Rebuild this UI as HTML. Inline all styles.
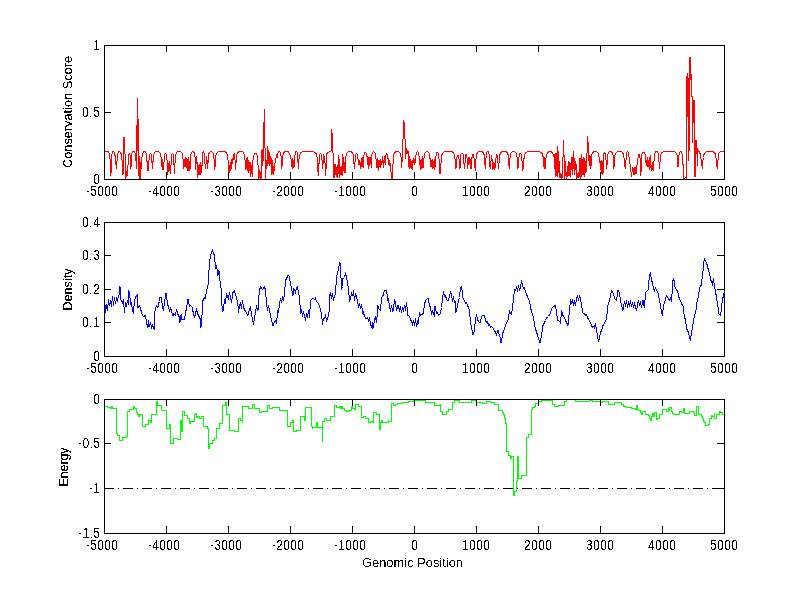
<!DOCTYPE html>
<html><head><meta charset="utf-8"><title>Plot</title><style>html,body{margin:0;padding:0;background:#fff;overflow:hidden}svg{display:block}</style></head><body><svg width="800" height="599" viewBox="0 0 800 599"><rect width="800" height="599" fill="#fff"/><g shape-rendering="crispEdges"><polyline fill="none" stroke="#f00" stroke-width="1" points="104.50,151.50 104.75,151.50 104.99,151.50 105.24,151.50 105.48,151.50 105.73,151.50 105.97,151.50 106.22,151.50 106.46,151.50 106.71,151.50 106.95,151.50 107.20,151.50 107.45,151.52 107.69,151.58 107.94,151.69 108.18,151.84 108.43,152.05 108.67,152.31 108.92,152.64 109.16,153.07 109.41,153.63 109.65,154.42 109.90,156.50 110.90,176.10 111.70,156.50 111.94,153.92 112.19,153.00 112.43,152.40 112.67,151.98 112.91,151.71 113.16,151.55 113.40,151.50 113.64,151.55 113.89,151.71 114.13,151.98 114.37,152.40 114.61,153.00 114.86,153.92 115.10,156.50 116.50,169.10 117.30,156.92 117.55,154.47 117.79,153.52 118.04,152.86 118.29,152.38 118.54,152.01 118.78,151.76 119.03,151.59 119.28,151.51 119.52,151.51 119.77,151.59 120.02,151.76 120.26,152.01 120.51,152.38 120.76,152.86 121.01,153.52 121.25,154.47 121.50,156.92 122.20,160.50 123.00,174.50 123.80,137.90 124.70,137.90 125.50,179.50 126.30,171.50 127.00,176.50 127.70,172.50 128.30,158.50 128.55,155.19 128.80,154.17 129.05,153.66 129.30,153.50 129.55,153.66 129.80,154.17 130.05,155.19 130.30,158.50 130.90,169.10 131.50,156.50 131.75,154.08 132.00,153.19 132.25,152.60 132.50,152.17 132.75,151.86 133.00,151.66 133.25,151.54 133.50,151.50 133.75,151.54 134.00,151.66 134.25,151.86 134.50,152.17 134.75,152.60 135.00,153.19 135.25,154.08 135.50,156.50 135.90,158.50 136.40,169.10 136.80,125.10 137.10,150.50 137.70,98.20 138.10,124.50 138.50,158.50 139.10,179.10 139.80,156.50 140.70,179.10 141.40,157.50 142.20,156.95 142.45,154.56 142.70,153.63 142.95,152.97 143.20,152.48 143.45,152.11 143.70,151.84 143.95,151.65 144.20,151.54 144.45,151.50 144.70,151.54 144.95,151.65 145.20,151.84 145.45,152.11 145.70,152.48 145.95,152.97 146.20,153.63 146.45,154.56 146.70,156.95 146.90,159.09 147.40,170.76 147.90,160.69 148.40,171.15 148.90,160.13 149.40,158.50 149.66,155.36 149.91,154.34 150.17,153.79 150.42,153.53 150.68,153.53 150.93,153.79 151.19,154.34 151.44,155.36 151.70,158.50 152.50,169.10 153.30,157.28 153.55,155.18 153.80,154.32 154.05,153.69 154.31,153.19 154.56,152.79 154.81,152.45 155.06,152.18 155.31,151.96 155.56,151.79 155.82,151.66 156.07,151.58 156.32,151.54 156.57,151.52 156.82,151.51 157.07,151.50 157.33,151.50 157.58,151.51 157.83,151.52 158.08,151.54 158.33,151.58 158.58,151.66 158.84,151.79 159.09,151.96 159.34,152.18 159.59,152.45 159.84,152.79 160.09,153.19 160.35,153.69 160.60,154.32 160.85,155.18 161.10,157.28 161.50,158.29 162.18,170.22 162.85,158.99 163.52,170.32 164.20,158.62 164.50,158.50 164.76,155.36 165.01,154.34 165.27,153.79 165.52,153.53 165.78,153.53 166.03,153.79 166.29,154.34 166.54,155.36 166.80,158.50 167.20,160.86 167.85,174.73 168.50,162.68 169.15,170.95 169.80,161.14 170.45,174.05 171.10,163.73 171.30,158.50 171.54,155.50 171.78,154.50 172.02,153.92 172.26,153.60 172.50,153.50 172.74,153.60 172.98,153.92 173.22,154.50 173.46,155.50 173.70,158.50 174.50,173.90 175.30,157.26 175.55,155.15 175.81,154.29 176.06,153.66 176.31,153.16 176.57,152.76 176.82,152.42 177.07,152.15 177.33,151.94 177.58,151.77 177.83,151.65 178.09,151.57 178.34,151.53 178.59,151.51 178.85,151.50 179.10,151.50 179.35,151.50 179.61,151.51 179.86,151.53 180.11,151.57 180.37,151.65 180.62,151.77 180.87,151.94 181.13,152.15 181.38,152.42 181.63,152.76 181.89,153.16 182.14,153.66 182.39,154.29 182.65,155.15 182.90,157.26 183.30,161.71 183.90,169.03 184.50,158.68 185.10,166.84 185.70,156.76 186.30,167.48 186.90,158.09 187.50,171.41 188.10,157.15 188.70,170.50 189.30,160.98 189.90,171.21 190.50,159.70 190.60,156.94 190.84,154.56 191.09,153.62 191.33,152.97 191.58,152.48 191.82,152.11 192.07,151.83 192.31,151.65 192.56,151.54 192.80,151.50 193.04,151.54 193.29,151.65 193.53,151.83 193.78,152.11 194.02,152.48 194.27,152.97 194.51,153.62 194.76,154.56 195.00,156.94 195.50,170.00 196.70,156.50 197.90,177.80 198.40,164.63 198.90,173.68 199.40,164.18 199.90,175.19 200.40,161.79 200.90,174.49 201.40,164.83 201.90,173.40 202.20,156.50 202.44,153.36 202.69,152.34 202.93,151.79 203.18,151.53 203.42,151.53 203.67,151.79 203.91,152.34 204.16,153.36 204.40,156.50 205.50,169.30 206.70,156.50 207.70,169.30 208.30,157.06 208.55,154.88 208.81,154.00 209.06,153.36 209.32,152.87 209.57,152.48 209.83,152.16 210.08,151.92 210.34,151.73 210.59,151.60 210.85,151.53 211.10,151.50 211.35,151.53 211.61,151.60 211.86,151.73 212.12,151.92 212.37,152.16 212.63,152.48 212.88,152.87 213.14,153.36 213.39,154.00 213.65,154.88 213.90,157.06 214.80,169.50 215.70,157.50 215.95,155.43 216.20,154.58 216.45,153.97 216.70,153.48 216.94,153.08 217.19,152.75 217.44,152.47 217.69,152.24 217.94,152.06 218.19,151.92 218.44,151.82 218.69,151.76 218.94,151.72 219.19,151.68 219.43,151.65 219.68,151.62 219.93,151.59 220.18,151.57 220.43,151.55 220.68,151.53 220.93,151.52 221.18,151.51 221.43,151.50 221.68,151.50 221.92,151.50 222.17,151.50 222.42,151.51 222.67,151.52 222.92,151.53 223.17,151.55 223.42,151.57 223.67,151.59 223.92,151.62 224.17,151.65 224.41,151.68 224.66,151.72 224.91,151.76 225.16,151.82 225.41,151.92 225.66,152.06 225.91,152.24 226.16,152.47 226.41,152.75 226.66,153.08 226.90,153.48 227.15,153.97 227.40,154.58 227.65,155.43 227.90,157.50 228.70,177.50 229.30,165.50 229.90,172.50 230.70,162.50 231.30,168.50 232.10,158.50 232.70,163.50 233.30,156.50 233.70,158.50 233.94,154.50 234.18,153.60 234.42,153.60 234.66,154.50 234.90,158.50 235.60,169.50 236.40,157.33 236.65,155.23 236.90,154.37 237.15,153.74 237.41,153.24 237.66,152.83 237.91,152.50 238.16,152.22 238.41,152.00 238.66,151.82 238.92,151.69 239.17,151.61 239.42,151.56 239.67,151.54 239.92,151.52 240.17,151.51 240.42,151.50 240.68,151.50 240.93,151.51 241.18,151.52 241.43,151.54 241.68,151.56 241.93,151.61 242.18,151.69 242.44,151.82 242.69,152.00 242.94,152.22 243.19,152.50 243.44,152.83 243.69,153.24 243.95,153.74 244.20,154.37 244.45,155.23 244.70,157.33 246.00,169.50 246.50,158.50 247.10,170.50 247.70,157.50 248.30,172.50 248.90,160.50 249.50,170.50 250.10,162.50 250.80,176.50 251.50,165.50 252.20,176.50 252.80,160.50 253.50,158.00 253.75,155.51 254.01,154.60 254.26,154.00 254.51,153.58 254.77,153.29 255.02,153.10 255.27,153.01 255.53,153.01 255.78,153.10 256.03,153.29 256.29,153.58 256.54,154.00 256.79,154.60 257.05,155.51 257.30,158.00 258.10,165.50 258.90,179.50 259.50,170.50 260.10,179.50 260.70,172.50 261.30,179.50 261.90,150.50 262.40,165.50 263.00,149.50 263.50,160.50 264.00,122.20 264.40,109.50 265.50,179.50 266.30,160.50 266.90,168.50 267.80,146.50 268.50,158.50 269.10,165.50 269.70,152.50 270.30,163.50 270.90,156.50 272.00,174.90 272.70,160.50 273.50,174.90 274.50,166.50 275.50,160.50 276.70,155.50 277.30,156.50 277.55,154.01 277.81,153.10 278.06,152.50 278.31,152.08 278.57,151.79 278.82,151.60 279.07,151.51 279.33,151.51 279.58,151.60 279.83,151.79 280.09,152.08 280.34,152.50 280.59,153.10 280.85,154.01 281.10,156.50 281.80,169.10 282.60,157.27 282.85,155.18 283.10,154.33 283.35,153.70 283.59,153.21 283.84,152.80 284.09,152.47 284.34,152.19 284.59,151.97 284.84,151.80 285.08,151.67 285.33,151.58 285.58,151.54 285.83,151.52 286.08,151.51 286.33,151.50 286.57,151.50 286.82,151.51 287.07,151.52 287.32,151.54 287.57,151.58 287.82,151.67 288.06,151.80 288.31,151.97 288.56,152.19 288.81,152.47 289.06,152.80 289.31,153.21 289.55,153.70 289.80,154.33 290.05,155.18 290.30,157.27 290.90,157.15 291.58,167.43 292.26,157.88 292.94,168.93 293.62,159.67 294.30,166.83 294.90,156.50 295.15,153.63 295.41,152.64 295.66,152.05 295.92,151.69 296.17,151.52 296.43,151.52 296.68,151.69 296.94,152.05 297.19,152.64 297.45,153.63 297.70,156.50 298.30,169.25 299.10,157.50 299.35,155.45 299.60,154.63 299.85,154.03 300.10,153.56 300.35,153.18 300.60,152.86 300.85,152.60 301.10,152.39 301.35,152.22 301.60,152.09 301.85,152.00 302.10,151.94 302.35,151.91 302.60,151.87 302.85,151.84 303.10,151.81 303.35,151.78 303.60,151.75 303.85,151.72 304.10,151.70 304.35,151.67 304.60,151.65 304.85,151.63 305.10,151.61 305.35,151.59 305.60,151.58 305.85,151.56 306.10,151.55 306.35,151.54 306.60,151.53 306.85,151.52 307.10,151.51 307.35,151.51 307.60,151.50 307.85,151.50 308.10,151.50 308.35,151.50 308.60,151.50 308.85,151.51 309.10,151.51 309.35,151.52 309.60,151.53 309.85,151.54 310.10,151.55 310.35,151.56 310.60,151.58 310.85,151.59 311.10,151.61 311.35,151.63 311.60,151.65 311.85,151.67 312.10,151.70 312.35,151.72 312.60,151.75 312.85,151.78 313.10,151.81 313.35,151.84 313.60,151.87 313.85,151.91 314.10,151.94 314.35,152.00 314.60,152.09 314.85,152.22 315.10,152.39 315.35,152.60 315.60,152.86 315.85,153.18 316.10,153.56 316.35,154.03 316.60,154.63 316.85,155.45 317.10,157.50 318.30,176.10 319.30,158.50 319.56,155.50 319.82,154.50 320.08,153.92 320.34,153.60 320.60,153.50 320.86,153.60 321.12,153.92 321.38,154.50 321.64,155.50 321.90,158.50 322.70,169.25 323.50,155.50 324.70,158.00 325.80,175.50 326.50,153.50 328.50,152.50 331.00,151.10 331.75,129.25 332.50,140.50 334.00,178.00 335.00,163.87 335.35,175.28 335.70,165.44 336.05,173.60 336.40,166.58 336.75,176.89 337.10,167.99 337.45,177.84 337.80,164.84 338.15,174.26 338.50,163.35 338.90,155.50 339.30,166.90 339.62,178.31 339.94,167.77 340.26,174.75 340.58,167.31 340.90,174.21 341.22,166.04 341.54,175.09 341.86,167.41 342.18,175.66 342.50,166.74 342.90,154.50 343.30,165.20 343.74,171.21 344.18,163.15 344.62,172.78 345.06,160.84 345.50,172.57 345.90,157.26 346.15,155.15 346.41,154.29 346.66,153.66 346.91,153.16 347.17,152.76 347.42,152.42 347.67,152.15 347.93,151.94 348.18,151.77 348.43,151.65 348.69,151.57 348.94,151.53 349.19,151.51 349.45,151.50 349.70,151.50 349.95,151.50 350.21,151.51 350.46,151.53 350.71,151.57 350.97,151.65 351.22,151.77 351.47,151.94 351.73,152.15 351.98,152.42 352.23,152.76 352.49,153.16 352.74,153.66 352.99,154.29 353.25,155.15 353.50,157.26 354.40,169.10 355.30,158.50 355.56,155.50 355.82,154.50 356.08,153.92 356.34,153.60 356.60,153.50 356.86,153.60 357.12,153.92 357.38,154.50 357.64,155.50 357.90,158.50 358.30,159.56 359.04,165.31 359.79,160.38 360.53,168.66 361.27,158.32 362.01,166.84 362.76,156.61 363.50,167.82 363.70,157.50 363.94,154.92 364.19,154.00 364.43,153.40 364.67,152.98 364.91,152.71 365.16,152.55 365.40,152.50 365.64,152.55 365.89,152.71 366.13,152.98 366.37,153.40 366.61,154.00 366.86,154.92 367.10,157.50 367.50,157.24 368.26,168.58 369.02,156.76 369.78,165.71 370.54,157.07 371.30,168.01 371.70,156.80 371.95,154.38 372.20,153.49 372.45,152.90 372.70,152.47 372.95,152.16 373.20,151.96 373.45,151.84 373.70,151.80 373.95,151.84 374.20,151.96 374.45,152.16 374.70,152.47 374.95,152.90 375.20,153.49 375.45,154.38 375.70,156.80 376.10,159.62 376.98,168.27 377.86,157.94 378.74,170.56 379.62,160.48 380.50,168.21 380.70,158.94 381.60,165.31 382.50,156.01 383.40,167.75 384.30,156.45 385.20,165.20 385.70,158.50 385.94,155.00 386.19,153.98 386.43,153.55 386.67,153.55 386.91,153.98 387.16,155.00 387.40,158.50 388.30,158.50 389.10,165.50 389.80,160.50 390.50,168.50 392.10,179.10 393.40,157.27 393.65,155.18 393.90,154.33 394.15,153.70 394.39,153.21 394.64,152.80 394.89,152.47 395.14,152.19 395.39,151.97 395.64,151.80 395.88,151.67 396.13,151.58 396.38,151.54 396.63,151.52 396.88,151.51 397.13,151.50 397.37,151.50 397.62,151.51 397.87,151.52 398.12,151.54 398.37,151.58 398.62,151.67 398.86,151.80 399.11,151.97 399.36,152.19 399.61,152.47 399.86,152.80 400.11,153.21 400.35,153.70 400.60,154.33 400.85,155.18 401.10,157.27 401.75,168.00 403.00,139.50 403.90,119.90 404.90,134.25 405.50,159.25 406.10,148.00 407.00,154.25 408.00,150.50 408.50,160.11 409.17,168.52 409.83,156.35 410.50,168.13 410.90,159.10 411.45,169.21 412.00,160.78 412.55,170.26 413.10,158.02 413.50,159.10 414.17,164.53 414.83,159.49 415.50,163.00 415.90,156.50 416.15,153.84 416.39,152.89 416.64,152.29 416.88,151.88 417.13,151.63 417.38,151.51 417.62,151.51 417.87,151.63 418.12,151.88 418.36,152.29 418.61,152.89 418.85,153.84 419.10,156.50 419.70,159.85 420.37,170.25 421.03,159.39 421.70,169.24 422.37,155.84 423.03,167.83 423.70,160.41 424.10,157.08 424.35,154.94 424.60,154.08 424.86,153.45 425.11,152.96 425.36,152.56 425.61,152.24 425.87,151.99 426.12,151.79 426.37,151.65 426.62,151.55 426.87,151.51 427.13,151.51 427.38,151.55 427.63,151.65 427.88,151.79 428.13,151.99 428.39,152.24 428.64,152.56 428.89,152.96 429.14,153.45 429.40,154.08 429.65,154.94 429.90,157.08 430.30,162.17 430.95,167.15 431.60,160.15 432.25,168.82 432.90,158.93 433.55,167.84 434.20,158.76 434.85,170.22 435.50,159.38 435.90,157.50 436.15,154.74 436.40,153.77 436.65,153.17 436.90,152.79 437.15,152.57 437.40,152.50 437.65,152.57 437.90,152.79 438.15,153.17 438.40,153.77 438.65,154.74 438.90,157.50 440.00,173.90 441.50,157.50 441.75,155.44 442.00,154.60 442.24,153.99 442.49,153.51 442.74,153.11 442.99,152.79 443.24,152.51 443.49,152.29 443.73,152.11 443.98,151.97 444.23,151.87 444.48,151.81 444.73,151.77 444.97,151.73 445.22,151.70 445.47,151.67 445.72,151.64 445.97,151.61 446.21,151.59 446.46,151.57 446.71,151.55 446.96,151.53 447.21,151.52 447.46,151.51 447.70,151.51 447.95,151.50 448.20,151.50 448.45,151.50 448.70,151.51 448.94,151.51 449.19,151.52 449.44,151.53 449.69,151.55 449.94,151.57 450.19,151.59 450.43,151.61 450.68,151.64 450.93,151.67 451.18,151.70 451.43,151.73 451.67,151.77 451.92,151.81 452.17,151.87 452.42,151.97 452.67,152.11 452.91,152.29 453.16,152.51 453.41,152.79 453.66,153.11 453.91,153.51 454.16,153.99 454.40,154.60 454.65,155.44 454.90,157.50 455.90,169.10 456.70,160.20 456.94,157.20 457.18,156.20 457.42,155.62 457.66,155.30 457.90,155.20 458.14,155.30 458.38,155.62 458.62,156.20 458.86,157.20 459.10,160.20 460.00,169.10 460.50,158.10 460.75,155.34 461.00,154.37 461.25,153.77 461.50,153.39 461.75,153.17 462.00,153.10 462.25,153.17 462.50,153.39 462.75,153.77 463.00,154.37 463.25,155.34 463.50,158.10 464.50,169.10 465.30,159.00 465.56,155.50 465.81,154.48 466.07,154.05 466.33,154.05 466.59,154.48 466.84,155.50 467.10,159.00 467.80,169.10 468.50,157.01 469.17,164.43 469.83,156.67 470.50,165.50 471.10,169.10 471.90,159.00 472.14,155.86 472.39,154.84 472.63,154.29 472.88,154.03 473.12,154.03 473.37,154.29 473.61,154.84 473.86,155.86 474.10,159.00 475.30,171.30 476.10,157.34 476.35,155.26 476.59,154.40 476.84,153.78 477.09,153.28 477.34,152.88 477.58,152.54 477.83,152.26 478.08,152.04 478.32,151.86 478.57,151.72 478.82,151.63 479.06,151.57 479.31,151.55 479.56,151.53 479.81,151.51 480.05,151.50 480.30,151.50 480.55,151.50 480.79,151.51 481.04,151.53 481.29,151.55 481.54,151.57 481.78,151.63 482.03,151.72 482.28,151.86 482.52,152.04 482.77,152.26 483.02,152.54 483.26,152.88 483.51,153.28 483.76,153.78 484.01,154.40 484.25,155.26 484.50,157.34 485.30,168.50 486.10,156.50 486.35,153.84 486.59,152.89 486.84,152.29 487.08,151.88 487.33,151.63 487.58,151.51 487.82,151.51 488.07,151.63 488.32,151.88 488.56,152.29 488.81,152.89 489.05,153.84 489.30,156.50 490.20,169.25 491.50,155.50 492.30,161.03 492.94,170.14 493.58,161.77 494.22,170.41 494.86,163.56 495.50,168.35 495.90,159.50 496.16,156.00 496.41,154.98 496.67,154.55 496.93,154.55 497.19,154.98 497.44,156.00 497.70,159.50 498.50,169.25 499.50,157.40 499.75,155.30 500.00,154.45 500.25,153.82 500.50,153.32 500.75,152.91 501.00,152.57 501.25,152.29 501.50,152.06 501.75,151.88 502.00,151.75 502.25,151.65 502.50,151.60 502.75,151.57 503.00,151.54 503.25,151.53 503.50,151.51 503.75,151.50 504.00,151.50 504.25,151.50 504.50,151.51 504.75,151.53 505.00,151.54 505.25,151.57 505.50,151.60 505.75,151.65 506.00,151.75 506.25,151.88 506.50,152.06 506.75,152.29 507.00,152.57 507.25,152.91 507.50,153.32 507.75,153.82 508.00,154.45 508.25,155.30 508.50,157.40 509.20,168.50 510.10,157.20 510.35,155.11 510.60,154.25 510.85,153.62 511.10,153.13 511.35,152.73 511.60,152.40 511.85,152.13 512.10,151.91 512.35,151.75 512.60,151.63 512.85,151.55 513.10,151.51 513.35,151.50 513.60,151.50 513.85,151.50 514.10,151.51 514.35,151.55 514.60,151.63 514.85,151.75 515.10,151.91 515.35,152.13 515.60,152.40 515.85,152.73 516.10,153.13 516.35,153.62 516.60,154.25 516.85,155.11 517.10,157.20 518.00,168.50 518.90,158.00 519.15,155.13 519.41,154.14 519.66,153.55 519.92,153.19 520.17,153.02 520.43,153.02 520.68,153.19 520.94,153.55 521.19,154.14 521.45,155.13 521.70,158.00 522.90,170.50 524.10,157.50 524.35,155.45 524.60,154.63 524.85,154.04 525.10,153.57 525.35,153.19 525.60,152.88 525.85,152.62 526.10,152.41 526.35,152.24 526.60,152.11 526.85,152.02 527.10,151.97 527.35,151.93 527.60,151.90 527.85,151.87 528.10,151.84 528.35,151.81 528.60,151.78 528.85,151.75 529.10,151.72 529.35,151.70 529.60,151.68 529.85,151.66 530.10,151.64 530.35,151.62 530.60,151.60 530.85,151.58 531.10,151.57 531.35,151.56 531.60,151.54 531.85,151.53 532.10,151.52 532.35,151.52 532.60,151.51 532.85,151.51 533.10,151.50 533.35,151.50 533.60,151.50 533.85,151.50 534.10,151.50 534.35,151.51 534.60,151.51 534.85,151.52 535.10,151.52 535.35,151.53 535.60,151.54 535.85,151.56 536.10,151.57 536.35,151.58 536.60,151.60 536.85,151.62 537.10,151.64 537.35,151.66 537.60,151.68 537.85,151.70 538.10,151.72 538.35,151.75 538.60,151.78 538.85,151.81 539.10,151.84 539.35,151.87 539.60,151.90 539.85,151.93 540.10,151.97 540.35,152.02 540.60,152.11 540.85,152.24 541.10,152.41 541.35,152.62 541.60,152.88 541.85,153.19 542.10,153.57 542.35,154.04 542.60,154.63 542.85,155.45 543.10,157.50 543.50,156.28 544.15,169.18 544.80,157.32 545.45,168.59 546.10,156.14 546.50,157.20 546.75,155.11 547.00,154.25 547.25,153.62 547.50,153.13 547.75,152.73 548.00,152.40 548.25,152.13 548.50,151.91 548.75,151.75 549.00,151.63 549.25,151.55 549.50,151.51 549.75,151.50 550.00,151.50 550.25,151.50 550.50,151.51 550.75,151.55 551.00,151.63 551.25,151.75 551.50,151.91 551.75,152.13 552.00,152.40 552.25,152.73 552.50,153.13 552.75,153.62 553.00,154.25 553.25,155.11 553.50,157.20 554.00,154.00 554.50,159.93 554.70,168.81 554.90,156.58 555.10,173.27 555.30,153.25 555.50,176.61 555.70,155.50 555.90,175.18 556.10,159.75 556.30,176.09 556.50,152.70 556.70,169.18 556.90,157.12 557.10,176.22 557.30,157.25 557.50,177.26 557.90,146.50 558.30,163.64 558.48,171.68 558.67,165.64 558.85,173.36 559.03,162.05 559.22,175.32 559.40,161.49 559.80,174.06 560.00,177.81 560.20,174.08 560.40,178.30 560.60,172.74 560.80,177.14 561.00,174.58 561.20,177.04 561.40,174.15 561.60,177.12 561.80,173.99 562.00,178.55 562.20,173.45 562.40,178.24 563.50,140.50 564.10,157.72 564.30,178.89 564.50,159.61 564.70,177.14 564.90,162.74 565.10,171.87 565.30,160.88 565.50,172.02 565.90,174.13 566.10,176.56 566.30,172.47 566.50,178.51 566.70,172.10 566.90,178.58 567.10,172.04 567.30,177.44 567.50,173.89 568.00,165.97 568.19,175.98 568.39,164.75 568.58,173.89 568.77,161.05 568.97,174.80 569.16,166.42 569.36,174.01 569.55,165.38 569.74,175.99 569.94,161.66 570.13,173.96 570.33,162.66 570.52,173.89 570.71,166.83 570.91,176.52 571.10,163.11 571.50,162.13 571.70,170.43 571.90,156.69 572.10,174.61 572.30,156.56 572.50,169.17 572.70,161.15 572.90,174.48 573.10,161.29 573.30,168.64 573.70,151.30 574.10,160.10 574.30,173.05 574.50,159.34 574.70,174.58 575.00,160.56 575.22,168.22 575.43,163.16 575.65,170.04 575.87,164.32 576.08,170.42 576.30,164.07 576.70,174.20 576.90,178.59 577.10,172.81 577.30,178.39 577.50,172.78 577.70,177.68 577.90,172.83 578.10,178.09 578.30,172.52 578.50,176.90 578.70,173.05 578.90,177.99 579.10,173.61 579.30,176.92 579.80,157.61 580.00,171.01 580.20,158.32 580.40,174.41 580.60,158.52 580.80,178.94 581.00,157.78 581.20,177.48 581.40,153.93 581.60,172.05 581.80,155.42 582.00,174.92 582.20,160.30 582.40,174.19 582.80,159.08 583.00,175.00 583.20,160.89 583.40,172.90 583.60,157.34 583.80,174.67 584.00,158.47 584.20,176.91 584.40,162.61 584.60,175.08 584.80,160.94 585.00,173.09 585.40,162.57 585.59,172.55 585.77,160.57 585.96,172.14 586.14,159.91 586.33,170.89 586.51,159.51 586.70,171.95 587.30,136.50 587.90,136.50 588.50,160.50 589.10,155.50 589.70,165.50 590.30,156.50 590.80,169.10 591.50,157.25 591.75,155.16 592.00,154.30 592.25,153.67 592.50,153.18 592.75,152.77 593.00,152.44 593.25,152.17 593.50,151.95 593.75,151.78 594.00,151.65 594.25,151.57 594.50,151.53 594.75,151.51 595.00,151.50 595.25,151.50 595.50,151.50 595.75,151.51 596.00,151.53 596.25,151.57 596.50,151.65 596.75,151.78 597.00,151.95 597.25,152.17 597.50,152.44 597.75,152.77 598.00,153.18 598.25,153.67 598.50,154.30 598.75,155.16 599.00,157.25 599.90,159.68 600.24,169.24 600.59,161.15 600.93,169.67 601.28,162.77 601.62,173.77 601.97,160.22 602.31,169.23 602.66,162.09 603.00,174.59 603.30,158.00 603.56,155.00 603.82,154.00 604.08,153.42 604.34,153.10 604.60,153.00 604.86,153.10 605.12,153.42 605.38,154.00 605.64,155.00 605.90,158.00 606.75,169.25 607.50,157.08 607.75,154.94 608.00,154.08 608.26,153.45 608.51,152.96 608.76,152.56 609.01,152.24 609.27,151.99 609.52,151.79 609.77,151.65 610.02,151.55 610.27,151.51 610.53,151.51 610.78,151.55 611.03,151.65 611.28,151.79 611.53,151.99 611.79,152.24 612.04,152.56 612.29,152.96 612.54,153.45 612.80,154.08 613.05,154.94 613.30,157.08 613.90,169.25 614.70,157.42 614.95,155.33 615.20,154.47 615.45,153.85 615.69,153.35 615.94,152.94 616.19,152.60 616.44,152.32 616.69,152.09 616.94,151.91 617.19,151.77 617.44,151.67 617.68,151.61 617.93,151.58 618.18,151.55 618.43,151.53 618.68,151.52 618.93,151.51 619.18,151.50 619.42,151.50 619.67,151.51 619.92,151.52 620.17,151.53 620.42,151.55 620.67,151.58 620.92,151.61 621.16,151.67 621.41,151.77 621.66,151.91 621.91,152.09 622.16,152.32 622.41,152.60 622.66,152.94 622.91,153.35 623.15,153.85 623.40,154.47 623.65,155.33 623.90,157.42 625.30,169.10 626.30,156.50 626.56,153.50 626.82,152.50 627.08,151.92 627.34,151.60 627.60,151.50 627.86,151.60 628.12,151.92 628.38,152.50 628.64,153.50 628.90,156.50 630.00,163.50 631.50,176.50 632.50,166.91 633.30,174.61 634.10,166.74 634.90,175.29 635.70,166.75 636.50,173.85 637.30,160.50 637.90,159.50 638.14,156.36 638.39,155.34 638.63,154.79 638.88,154.53 639.12,154.53 639.37,154.79 639.61,155.34 639.86,156.36 640.10,159.50 640.90,176.10 641.50,157.50 641.75,155.08 642.00,154.19 642.25,153.60 642.50,153.17 642.75,152.86 643.00,152.66 643.25,152.54 643.50,152.50 643.75,152.54 644.00,152.66 644.25,152.86 644.50,153.17 644.75,153.60 645.00,154.19 645.25,155.08 645.50,157.50 645.70,160.34 646.46,166.10 647.22,157.26 647.98,166.99 648.74,159.74 649.50,169.80 650.10,155.50 650.70,165.44 651.50,171.08 652.30,161.73 653.10,171.17 653.90,162.73 654.30,156.94 654.54,154.56 654.79,153.62 655.03,152.97 655.28,152.48 655.52,152.11 655.77,151.83 656.01,151.65 656.26,151.54 656.50,151.50 656.74,151.54 656.99,151.65 657.23,151.83 657.48,152.11 657.72,152.48 657.97,152.97 658.21,153.62 658.46,154.56 658.70,156.94 659.50,169.25 660.30,157.50 660.55,155.44 660.80,154.62 661.05,154.02 661.30,153.55 661.55,153.17 661.80,152.85 662.05,152.59 662.30,152.37 662.55,152.20 662.80,152.07 663.05,151.98 663.30,151.92 663.55,151.88 663.80,151.85 664.05,151.81 664.30,151.78 664.55,151.75 664.80,151.72 665.05,151.69 665.30,151.67 665.55,151.65 665.80,151.62 666.05,151.60 666.30,151.59 666.55,151.57 666.80,151.56 667.05,151.54 667.30,151.53 667.55,151.52 667.80,151.51 668.05,151.51 668.30,151.50 668.55,151.50 668.80,151.50 669.05,151.50 669.30,151.50 669.55,151.51 669.80,151.51 670.05,151.52 670.30,151.53 670.55,151.54 670.80,151.56 671.05,151.57 671.30,151.59 671.55,151.60 671.80,151.62 672.05,151.65 672.30,151.67 672.55,151.69 672.80,151.72 673.05,151.75 673.30,151.78 673.55,151.81 673.80,151.85 674.05,151.88 674.30,151.92 674.55,151.98 674.80,152.07 675.05,152.20 675.30,152.37 675.55,152.59 675.80,152.85 676.05,153.17 676.30,153.55 676.55,154.02 676.80,154.62 677.05,155.44 677.30,157.50 678.00,167.20 678.90,156.50 679.14,153.92 679.39,153.00 679.63,152.40 679.87,151.98 680.11,151.71 680.36,151.55 680.60,151.50 680.84,151.55 681.09,151.71 681.33,151.98 681.57,152.40 681.81,153.00 682.06,153.92 682.30,156.50 683.10,165.50 683.50,178.30 684.50,178.50 685.50,177.50 686.20,178.50 686.50,76.50 687.10,76.50 687.50,73.50 687.90,99.50 688.30,160.50 688.70,78.50 689.10,150.50 689.50,57.50 690.50,57.50 690.90,79.50 691.70,74.50 692.70,142.50 693.30,105.50 694.00,100.50 694.70,176.50 695.40,176.50 696.00,140.50 696.70,140.50 697.30,165.50 697.70,149.50 699.00,151.50 700.00,153.50 701.00,158.50 702.30,168.50 703.00,160.50 703.50,157.50 703.75,155.42 704.00,154.58 704.25,153.97 704.50,153.48 704.75,153.08 705.00,152.75 705.25,152.47 705.50,152.25 705.75,152.07 706.00,151.93 706.25,151.83 706.50,151.77 706.75,151.73 707.00,151.69 707.25,151.66 707.50,151.63 707.75,151.60 708.00,151.58 708.25,151.56 708.50,151.54 708.75,151.53 709.00,151.51 709.25,151.51 709.50,151.50 709.75,151.50 710.00,151.50 710.25,151.51 710.50,151.51 710.75,151.53 711.00,151.54 711.25,151.56 711.50,151.58 711.75,151.60 712.00,151.63 712.25,151.66 712.50,151.69 712.75,151.73 713.00,151.77 713.25,151.83 713.50,151.93 713.75,152.07 714.00,152.25 714.25,152.47 714.50,152.75 714.75,153.08 715.00,153.48 715.25,153.97 715.50,154.58 715.75,155.42 716.00,157.50 717.20,169.00 718.30,156.50 718.55,154.51 718.80,153.75 719.04,153.20 719.29,152.79 719.54,152.45 719.79,152.18 720.04,151.97 720.28,151.80 720.53,151.67 720.78,151.58 721.03,151.52 721.28,151.50 721.52,151.50 721.77,151.50 722.02,151.50 722.27,151.50 722.52,151.50 722.76,151.50 723.01,151.50 723.26,151.50 723.51,151.50 723.76,151.50 724.00,151.50 724.25,151.50 724.50,151.50"/><polyline fill="none" stroke="#00f" stroke-width="1" points="104.50,306.50 105.50,312.50 105.50,305.50 106.50,304.50 106.50,306.50 107.50,310.50 108.50,299.50 109.50,305.50 110.50,300.50 111.50,306.50 112.50,296.50 113.50,305.50 114.50,297.50 115.50,303.50 116.50,298.50 117.50,300.50 118.50,295.50 119.50,294.50 120.00,286.50 120.50,299.50 121.50,300.50 122.50,302.50 123.50,300.50 124.50,312.50 125.50,302.50 126.50,305.50 127.50,301.50 128.50,304.50 129.00,290.50 130.00,297.50 131.00,304.50 131.50,303.50 132.50,310.50 133.50,312.50 134.50,300.50 135.50,297.50 136.50,295.50 137.50,295.00 138.00,307.50 139.50,305.50 140.50,308.50 141.50,312.50 142.50,315.50 143.50,316.50 145.50,315.50 146.10,319.50 147.00,324.50 148.00,327.50 148.50,320.50 149.50,326.50 150.50,322.50 151.50,327.50 152.50,325.50 153.50,327.50 154.50,329.50 154.90,311.50 155.50,308.50 156.50,305.50 158.00,307.50 158.50,303.50 159.50,301.50 160.00,297.50 161.50,297.50 162.50,307.50 163.50,309.50 164.90,299.50 166.10,293.00 166.50,295.50 167.50,304.50 168.50,306.50 169.50,311.50 170.50,307.50 171.50,311.50 173.00,315.50 173.50,313.50 175.50,315.50 176.50,309.50 178.00,314.50 179.50,317.50 179.90,322.50 181.10,314.50 181.50,319.50 184.50,319.50 185.50,312.50 186.50,308.50 188.00,299.50 188.50,300.50 189.50,306.50 190.50,305.50 192.50,307.50 193.00,311.50 194.50,317.50 195.50,313.50 196.50,309.50 198.00,314.50 199.50,317.50 200.50,319.50 201.00,327.50 202.00,315.50 203.00,300.50 204.50,297.50 205.50,298.00 206.50,290.50 208.00,285.50 209.50,262.50 210.50,255.50 211.50,252.50 212.25,250.00 213.50,253.50 214.50,255.50 215.50,268.50 216.50,265.50 218.00,275.50 219.00,270.50 220.50,285.50 221.50,290.50 222.00,305.50 223.00,311.50 224.50,300.50 225.50,302.50 226.50,294.50 228.50,298.50 229.50,292.50 230.50,296.50 231.50,302.50 233.00,292.50 234.50,290.50 235.50,295.50 236.50,296.50 238.00,305.50 238.50,312.50 239.50,305.50 240.50,302.50 241.50,308.50 242.50,300.50 243.50,306.50 244.50,310.50 245.50,310.50 246.50,313.50 248.00,315.50 249.50,309.50 250.50,306.50 251.50,315.50 252.50,318.50 253.50,324.50 254.50,318.50 255.50,312.50 256.50,306.50 258.00,310.50 258.50,300.50 259.50,290.50 260.50,286.50 262.50,289.50 264.50,286.50 265.50,290.50 266.50,302.50 267.50,310.50 268.50,305.50 269.50,310.50 270.50,315.50 271.50,320.50 273.00,325.50 274.50,321.50 275.50,320.50 276.50,322.50 278.00,310.50 278.50,312.50 279.50,304.50 280.50,298.00 281.50,303.00 282.50,296.50 283.50,300.50 284.50,293.00 285.50,280.50 286.50,278.50 288.00,275.50 289.50,276.50 290.50,284.50 291.50,288.00 293.00,295.50 293.50,288.50 294.50,289.50 295.50,292.50 296.50,287.50 297.50,286.50 298.50,292.50 299.50,297.50 300.50,312.50 301.50,310.50 302.50,315.50 303.50,312.50 304.50,315.50 305.50,320.50 306.50,313.50 307.50,317.50 308.50,310.50 309.50,317.50 310.50,300.50 311.50,299.50 313.00,298.00 314.50,299.50 315.50,298.00 316.50,301.50 318.00,303.00 319.50,305.50 320.50,310.50 321.50,313.00 322.50,324.50 323.50,318.50 324.50,318.50 325.50,315.50 326.50,320.50 328.00,317.50 329.00,312.50 329.50,295.50 330.50,293.50 331.50,297.50 332.50,294.50 333.50,299.50 334.50,296.50 335.50,293.00 336.50,277.50 337.50,273.00 338.50,268.50 339.50,263.50 340.00,262.50 340.50,266.50 341.50,288.50 342.50,286.50 343.00,278.50 344.50,277.50 345.50,273.50 346.50,276.50 348.00,285.50 348.50,288.50 349.50,300.50 350.50,298.50 351.50,293.00 353.00,295.50 353.50,290.50 354.50,300.50 355.50,294.50 356.50,296.50 358.00,303.50 358.50,307.50 359.50,303.50 360.50,308.00 361.50,305.50 363.00,313.50 363.50,312.50 364.50,316.50 365.50,318.00 366.50,318.50 367.50,317.50 368.50,320.50 369.50,318.50 370.50,323.50 371.50,328.00 372.50,322.50 373.00,328.50 374.50,320.50 375.50,316.50 376.50,322.50 378.00,305.50 378.50,308.50 380.50,310.50 381.50,297.50 383.00,295.50 384.50,290.50 386.50,290.50 388.00,300.50 388.50,298.50 389.50,307.50 390.50,310.50 391.50,306.50 393.00,311.50 394.50,300.50 395.50,302.50 396.50,310.50 398.00,305.50 399.50,310.50 400.50,306.50 401.50,312.50 402.50,307.50 403.50,311.50 404.50,305.50 405.50,310.50 406.50,302.50 408.00,315.50 409.50,316.50 410.50,319.50 411.50,321.50 412.50,324.50 413.50,320.50 414.50,325.50 415.50,318.50 416.50,326.50 417.50,320.50 418.00,324.50 419.50,313.50 420.50,315.50 422.50,313.50 423.00,314.50 424.50,304.50 425.50,300.50 426.50,299.50 428.00,298.00 429.50,305.50 430.50,307.50 431.50,313.50 432.50,311.50 434.50,315.50 435.00,306.50 436.50,313.50 437.50,312.50 438.50,315.50 440.50,313.50 441.50,307.50 443.50,291.50 444.50,296.50 445.50,295.50 446.50,299.50 448.00,300.50 449.50,296.50 450.50,291.50 451.50,295.50 452.50,300.50 453.50,297.50 454.50,302.50 455.50,301.50 456.00,312.50 458.00,303.00 459.50,297.50 460.50,287.50 461.50,286.50 463.00,298.00 464.50,300.50 465.50,303.50 466.50,302.50 468.00,306.50 469.50,310.50 470.50,323.50 471.50,326.50 472.50,332.50 473.00,334.50 474.50,330.50 475.50,318.50 476.50,315.50 478.00,320.50 479.50,322.50 480.50,322.50 481.50,316.50 483.00,315.50 484.50,315.50 485.50,320.50 486.50,322.50 487.50,321.50 488.50,325.50 489.50,324.50 490.50,327.50 491.50,326.50 493.00,328.00 494.50,330.50 495.50,332.50 496.50,334.50 498.00,330.50 499.50,335.50 500.50,338.50 501.00,342.50 501.50,340.50 503.00,332.50 504.50,328.50 505.50,325.50 506.50,322.50 508.00,320.50 509.50,311.50 510.50,313.50 511.50,314.50 513.00,303.00 514.50,289.50 515.50,290.50 516.50,287.50 517.50,290.50 518.50,286.50 519.50,289.50 520.50,287.50 521.50,280.50 522.50,285.50 523.50,288.50 524.50,287.50 525.50,292.50 526.50,293.50 527.50,297.50 529.50,300.50 530.50,307.50 531.50,311.50 533.00,315.50 534.50,323.50 535.50,329.50 536.50,331.50 537.50,335.50 538.50,338.50 540.00,343.00 540.50,340.50 541.50,335.50 543.00,325.50 544.50,322.50 545.50,320.50 546.50,318.00 548.50,316.50 550.50,313.00 551.50,308.50 553.50,306.50 555.50,305.50 556.50,313.00 558.00,320.50 559.50,321.50 560.50,323.00 561.50,310.50 563.00,315.50 564.50,318.00 565.50,320.50 566.50,322.50 568.00,325.50 569.50,310.50 570.50,300.50 571.50,302.50 572.50,300.50 573.50,304.50 574.50,301.50 575.50,305.50 576.50,298.50 577.50,296.50 578.50,299.50 579.50,296.50 580.50,298.50 581.50,305.50 583.00,313.00 584.50,313.50 585.50,315.50 586.50,314.50 588.00,318.50 589.50,320.50 590.50,323.00 591.50,325.50 592.50,327.50 593.50,326.50 594.50,328.00 595.50,323.00 596.50,330.50 597.50,335.50 598.50,341.50 599.50,338.50 600.50,332.50 601.50,330.50 603.00,325.50 604.50,323.00 605.50,321.50 606.50,318.00 608.00,305.50 609.50,300.50 610.50,295.50 611.50,290.50 613.00,293.00 614.50,298.00 615.50,299.50 616.50,300.50 618.00,290.50 619.50,293.00 620.50,300.50 621.50,305.50 623.00,310.50 624.50,301.50 625.50,306.50 626.50,300.50 627.50,307.50 628.50,302.50 629.50,305.50 630.50,300.50 631.50,306.50 632.50,302.50 633.50,307.50 634.50,303.50 635.50,306.50 636.50,310.50 638.00,302.50 638.50,300.50 639.50,305.50 640.50,301.50 641.50,307.50 643.00,300.50 644.50,308.00 645.50,293.00 646.50,291.50 648.00,290.50 649.50,275.50 650.50,273.00 651.50,280.50 652.50,282.50 653.50,288.50 654.50,290.50 655.50,288.00 656.50,290.50 658.00,293.00 659.50,300.50 660.50,305.50 661.50,313.00 662.50,315.50 663.50,305.50 664.50,303.00 665.50,298.50 666.50,295.50 668.00,298.00 669.50,300.50 670.50,298.50 671.50,300.50 673.00,280.50 673.90,278.20 674.50,286.50 675.50,287.50 676.50,290.10 677.50,290.50 678.50,295.50 679.50,299.30 680.50,301.20 681.50,303.50 683.10,306.50 684.00,314.00 685.00,318.50 685.90,323.20 686.50,328.50 688.50,332.50 689.50,337.90 690.50,339.80 691.50,332.50 692.50,327.50 693.20,323.20 694.10,317.50 696.00,310.50 696.90,303.00 698.50,295.50 699.50,288.30 701.50,284.50 702.50,273.50 703.50,268.10 704.25,258.00 705.20,260.50 707.00,264.50 707.90,268.10 709.50,273.50 710.50,279.10 712.50,284.50 713.50,278.20 714.50,286.50 716.20,295.50 717.10,301.20 719.00,314.00 719.90,314.00 720.80,315.90 721.50,304.50 722.50,301.20 723.50,293.50 724.50,301.20"/><polyline fill="none" stroke="#0f0" stroke-width="1" points="104.50,406.50 107.50,406.50 107.50,407.50 110.50,407.50 110.50,408.50 111.50,408.50 111.50,406.50 112.50,406.50 112.50,408.50 116.50,408.50 116.50,433.50 117.50,433.50 117.50,435.50 119.50,435.50 119.50,440.50 122.50,440.50 122.50,437.50 126.50,437.50 126.50,436.50 127.50,436.50 127.50,411.50 129.50,411.50 129.50,409.50 133.50,409.50 133.50,406.50 134.50,406.50 134.50,408.50 136.50,408.50 136.50,410.50 136.50,410.50 136.50,412.50 137.50,412.50 137.50,414.50 138.50,414.50 138.50,416.50 139.50,416.50 139.50,414.50 142.50,414.50 142.50,426.50 145.50,426.50 145.50,424.50 148.50,424.50 148.50,420.50 150.50,420.50 150.50,422.50 151.50,422.50 151.50,414.50 156.50,414.50 156.50,401.50 157.50,401.50 157.50,405.50 161.50,405.50 161.50,410.50 166.50,410.50 166.50,428.50 169.50,428.50 169.50,424.50 170.50,424.50 170.50,443.50 173.50,443.50 173.50,438.50 177.50,438.50 177.50,439.50 180.50,439.50 180.50,420.50 181.50,420.50 181.50,431.50 182.50,431.50 182.50,411.50 184.50,411.50 184.50,415.50 187.50,415.50 187.50,418.50 189.50,418.50 189.50,423.50 190.50,423.50 190.50,421.50 194.50,421.50 194.50,414.50 195.50,414.50 195.50,413.50 196.50,413.50 196.50,417.50 197.50,417.50 197.50,416.50 199.50,416.50 199.50,418.50 201.50,418.50 201.50,416.50 203.50,416.50 203.50,426.50 207.50,426.50 207.50,428.50 208.50,428.50 208.50,430.50 208.50,430.50 208.50,448.50 209.50,448.50 209.50,443.50 212.50,443.50 212.50,440.50 214.50,440.50 214.50,438.50 216.50,438.50 216.50,428.50 219.50,428.50 219.50,423.50 222.50,423.50 222.50,405.50 225.50,405.50 225.50,402.50 226.50,402.50 226.50,414.50 229.50,414.50 229.50,430.50 230.50,430.50 230.50,430.50 234.50,430.50 234.50,431.50 238.50,431.50 238.50,418.50 240.50,418.50 240.50,420.50 242.50,420.50 242.50,422.50 242.50,422.50 242.50,406.50 245.50,406.50 245.50,406.50 248.50,406.50 248.50,408.50 252.50,408.50 252.50,404.50 254.50,404.50 254.50,408.50 259.50,408.50 259.50,412.50 261.50,412.50 261.50,411.50 267.50,411.50 267.50,405.50 269.50,405.50 269.50,408.50 272.50,408.50 272.50,407.50 279.50,407.50 279.50,410.50 283.50,410.50 283.50,410.50 287.50,410.50 287.50,426.50 290.50,426.50 290.50,422.50 292.50,422.50 292.50,420.50 293.50,420.50 293.50,422.50 293.50,422.50 293.50,431.50 296.50,431.50 296.50,430.50 300.50,430.50 300.50,416.50 304.50,416.50 304.50,420.50 305.50,420.50 305.50,407.50 311.50,407.50 311.50,426.50 312.50,426.50 312.50,428.50 312.50,428.50 312.50,427.50 316.50,427.50 316.50,422.50 317.50,422.50 317.50,427.50 322.50,427.50 322.50,441.50 322.50,441.50 322.50,421.50 324.50,421.50 324.50,418.50 326.50,418.50 326.50,420.50 330.50,420.50 330.50,416.50 334.50,416.50 334.50,405.50 336.50,405.50 336.50,407.50 338.50,407.50 338.50,407.50 339.50,407.50 339.50,406.50 340.50,406.50 340.50,408.50 341.50,408.50 341.50,406.50 342.50,406.50 342.50,408.50 344.50,408.50 344.50,410.50 346.50,410.50 346.50,411.50 348.50,411.50 348.50,410.50 351.50,410.50 351.50,406.50 352.50,406.50 352.50,408.50 354.50,408.50 354.50,409.50 355.50,409.50 355.50,404.50 358.50,404.50 358.50,406.50 361.50,406.50 361.50,417.50 363.50,417.50 363.50,416.50 365.50,416.50 365.50,418.50 368.50,418.50 368.50,422.50 370.50,422.50 370.50,421.50 372.50,421.50 372.50,422.50 373.50,422.50 373.50,412.50 376.50,412.50 376.50,414.50 379.50,414.50 379.50,412.50 379.50,412.50 379.50,429.50 380.50,429.50 380.50,422.50 381.50,422.50 381.50,420.50 382.50,420.50 382.50,422.50 388.50,422.50 388.50,419.50 388.50,419.50 388.50,421.50 391.50,421.50 391.50,403.50 393.50,403.50 393.50,405.50 395.50,405.50 395.50,404.50 397.50,404.50 397.50,403.50 401.50,403.50 401.50,402.50 408.50,402.50 408.50,401.50 413.50,401.50 413.50,400.50 425.50,400.50 425.50,402.50 432.50,402.50 432.50,402.50 434.50,402.50 434.50,405.50 439.50,405.50 439.50,404.50 440.50,404.50 440.50,411.50 442.50,411.50 442.50,414.50 446.50,414.50 446.50,411.50 448.50,411.50 448.50,409.50 452.50,409.50 452.50,402.50 454.50,402.50 454.50,400.50 459.50,400.50 459.50,402.50 462.50,402.50 462.50,402.50 471.50,402.50 471.50,400.50 476.50,400.50 476.50,402.50 482.50,402.50 482.50,403.50 486.50,403.50 486.50,401.50 490.50,401.50 490.50,402.50 494.50,402.50 494.50,404.50 498.50,404.50 498.50,410.50 502.50,410.50 502.50,412.50 503.50,412.50 503.50,414.50 504.50,414.50 504.50,418.50 505.50,418.50 505.50,423.50 506.50,423.50 506.50,451.50 508.50,451.50 508.50,455.50 510.50,455.50 510.50,458.50 511.50,458.50 511.50,456.50 513.50,456.50 513.50,495.50 514.50,495.50 514.50,491.50 516.50,491.50 516.50,481.50 517.50,481.50 517.50,456.50 518.50,456.50 518.50,478.50 521.50,478.50 521.50,475.50 526.50,475.50 526.50,444.50 526.50,444.50 526.50,437.50 528.50,437.50 528.50,434.50 531.50,434.50 531.50,409.50 532.50,409.50 532.50,407.50 534.50,407.50 534.50,406.50 535.50,406.50 535.50,403.50 538.50,403.50 538.50,401.50 541.50,401.50 541.50,400.50 545.50,400.50 545.50,400.50 552.50,400.50 552.50,404.50 554.50,404.50 554.50,406.50 558.50,406.50 558.50,405.50 564.50,405.50 564.50,401.50 566.50,401.50 566.50,399.50 575.50,399.50 575.50,401.50 576.50,401.50 576.50,401.50 589.50,401.50 589.50,400.50 592.50,400.50 592.50,401.50 600.50,401.50 600.50,402.50 602.50,402.50 602.50,401.50 608.50,401.50 608.50,404.50 614.50,404.50 614.50,402.50 621.50,402.50 621.50,404.50 623.50,404.50 623.50,406.50 626.50,406.50 626.50,407.50 631.50,407.50 631.50,408.50 635.50,408.50 635.50,409.50 636.50,409.50 636.50,405.50 637.50,405.50 637.50,409.50 638.50,409.50 638.50,410.50 640.50,410.50 640.50,412.50 641.50,412.50 641.50,414.50 642.50,414.50 642.50,411.50 645.50,411.50 645.50,414.50 648.50,414.50 648.50,415.50 649.50,415.50 649.50,418.50 650.50,418.50 650.50,420.50 651.50,420.50 651.50,416.50 652.50,416.50 652.50,413.50 653.50,413.50 653.50,416.50 654.50,416.50 654.50,412.50 656.50,412.50 656.50,416.50 656.50,416.50 656.50,419.50 657.50,419.50 657.50,418.50 659.50,418.50 659.50,414.50 662.50,414.50 662.50,409.50 666.50,409.50 666.50,408.50 666.50,408.50 666.50,411.50 668.50,411.50 668.50,408.50 669.50,408.50 669.50,410.50 669.50,410.50 669.50,407.50 671.50,407.50 671.50,408.50 671.50,408.50 671.50,411.50 672.50,411.50 672.50,413.50 673.50,413.50 673.50,414.50 679.50,414.50 679.50,411.50 681.50,411.50 681.50,412.50 683.50,412.50 683.50,408.50 684.50,408.50 684.50,413.50 689.50,413.50 689.50,411.50 692.50,411.50 692.50,411.50 693.50,411.50 693.50,412.50 694.50,412.50 694.50,415.50 696.50,415.50 696.50,406.50 698.50,406.50 698.50,411.50 698.50,411.50 698.50,414.50 701.50,414.50 701.50,416.50 702.50,416.50 702.50,418.50 703.50,418.50 703.50,421.50 704.50,421.50 704.50,422.50 705.50,422.50 705.50,425.50 708.50,425.50 708.50,424.50 709.50,424.50 709.50,418.50 711.50,418.50 711.50,415.50 712.50,415.50 712.50,416.50 714.50,416.50 714.50,412.50 714.50,412.50 714.50,418.50 716.50,418.50 716.50,413.50 716.50,413.50 716.50,414.50 719.50,414.50 719.50,411.50 720.50,411.50 720.50,412.50 722.50,412.50 722.50,414.50 724.50,414.50 724.50,415.50 724.50,415.50"/></g><g shape-rendering="crispEdges"><rect x="104" y="45" width="621" height="1" fill="#000"/><rect x="104" y="179" width="621" height="1" fill="#000"/><rect x="104" y="45" width="1" height="135" fill="#000"/><rect x="724" y="45" width="1" height="135" fill="#000"/><rect x="104" y="46" width="1" height="6" fill="#000"/><rect x="104" y="172" width="1" height="7" fill="#000"/><rect x="166" y="46" width="1" height="6" fill="#000"/><rect x="166" y="172" width="1" height="7" fill="#000"/><rect x="228" y="46" width="1" height="6" fill="#000"/><rect x="228" y="172" width="1" height="7" fill="#000"/><rect x="290" y="46" width="1" height="6" fill="#000"/><rect x="290" y="172" width="1" height="7" fill="#000"/><rect x="352" y="46" width="1" height="6" fill="#000"/><rect x="352" y="172" width="1" height="7" fill="#000"/><rect x="414" y="46" width="1" height="6" fill="#000"/><rect x="414" y="172" width="1" height="7" fill="#000"/><rect x="476" y="46" width="1" height="6" fill="#000"/><rect x="476" y="172" width="1" height="7" fill="#000"/><rect x="538" y="46" width="1" height="6" fill="#000"/><rect x="538" y="172" width="1" height="7" fill="#000"/><rect x="600" y="46" width="1" height="6" fill="#000"/><rect x="600" y="172" width="1" height="7" fill="#000"/><rect x="662" y="46" width="1" height="6" fill="#000"/><rect x="662" y="172" width="1" height="7" fill="#000"/><rect x="724" y="46" width="1" height="6" fill="#000"/><rect x="724" y="172" width="1" height="7" fill="#000"/><rect x="104" y="222" width="621" height="1" fill="#000"/><rect x="104" y="356" width="621" height="1" fill="#000"/><rect x="104" y="222" width="1" height="135" fill="#000"/><rect x="724" y="222" width="1" height="135" fill="#000"/><rect x="104" y="223" width="1" height="6" fill="#000"/><rect x="104" y="349" width="1" height="7" fill="#000"/><rect x="166" y="223" width="1" height="6" fill="#000"/><rect x="166" y="349" width="1" height="7" fill="#000"/><rect x="228" y="223" width="1" height="6" fill="#000"/><rect x="228" y="349" width="1" height="7" fill="#000"/><rect x="290" y="223" width="1" height="6" fill="#000"/><rect x="290" y="349" width="1" height="7" fill="#000"/><rect x="352" y="223" width="1" height="6" fill="#000"/><rect x="352" y="349" width="1" height="7" fill="#000"/><rect x="414" y="223" width="1" height="6" fill="#000"/><rect x="414" y="349" width="1" height="7" fill="#000"/><rect x="476" y="223" width="1" height="6" fill="#000"/><rect x="476" y="349" width="1" height="7" fill="#000"/><rect x="538" y="223" width="1" height="6" fill="#000"/><rect x="538" y="349" width="1" height="7" fill="#000"/><rect x="600" y="223" width="1" height="6" fill="#000"/><rect x="600" y="349" width="1" height="7" fill="#000"/><rect x="662" y="223" width="1" height="6" fill="#000"/><rect x="662" y="349" width="1" height="7" fill="#000"/><rect x="724" y="223" width="1" height="6" fill="#000"/><rect x="724" y="349" width="1" height="7" fill="#000"/><rect x="104" y="399" width="621" height="1" fill="#000"/><rect x="104" y="533" width="621" height="1" fill="#000"/><rect x="104" y="399" width="1" height="135" fill="#000"/><rect x="724" y="399" width="1" height="135" fill="#000"/><rect x="104" y="400" width="1" height="6" fill="#000"/><rect x="104" y="526" width="1" height="7" fill="#000"/><rect x="166" y="400" width="1" height="6" fill="#000"/><rect x="166" y="526" width="1" height="7" fill="#000"/><rect x="228" y="400" width="1" height="6" fill="#000"/><rect x="228" y="526" width="1" height="7" fill="#000"/><rect x="290" y="400" width="1" height="6" fill="#000"/><rect x="290" y="526" width="1" height="7" fill="#000"/><rect x="352" y="400" width="1" height="6" fill="#000"/><rect x="352" y="526" width="1" height="7" fill="#000"/><rect x="414" y="400" width="1" height="6" fill="#000"/><rect x="414" y="526" width="1" height="7" fill="#000"/><rect x="476" y="400" width="1" height="6" fill="#000"/><rect x="476" y="526" width="1" height="7" fill="#000"/><rect x="538" y="400" width="1" height="6" fill="#000"/><rect x="538" y="526" width="1" height="7" fill="#000"/><rect x="600" y="400" width="1" height="6" fill="#000"/><rect x="600" y="526" width="1" height="7" fill="#000"/><rect x="662" y="400" width="1" height="6" fill="#000"/><rect x="662" y="526" width="1" height="7" fill="#000"/><rect x="724" y="400" width="1" height="6" fill="#000"/><rect x="724" y="526" width="1" height="7" fill="#000"/><rect x="105" y="179" width="6" height="1" fill="#000"/><rect x="717" y="179" width="7" height="1" fill="#000"/><rect x="105" y="112" width="6" height="1" fill="#000"/><rect x="717" y="112" width="7" height="1" fill="#000"/><rect x="105" y="45" width="6" height="1" fill="#000"/><rect x="717" y="45" width="7" height="1" fill="#000"/><rect x="105" y="356" width="6" height="1" fill="#000"/><rect x="717" y="356" width="7" height="1" fill="#000"/><rect x="105" y="322" width="6" height="1" fill="#000"/><rect x="717" y="322" width="7" height="1" fill="#000"/><rect x="105" y="289" width="6" height="1" fill="#000"/><rect x="717" y="289" width="7" height="1" fill="#000"/><rect x="105" y="255" width="6" height="1" fill="#000"/><rect x="717" y="255" width="7" height="1" fill="#000"/><rect x="105" y="222" width="6" height="1" fill="#000"/><rect x="717" y="222" width="7" height="1" fill="#000"/><rect x="105" y="399" width="6" height="1" fill="#000"/><rect x="717" y="399" width="7" height="1" fill="#000"/><rect x="105" y="443" width="6" height="1" fill="#000"/><rect x="717" y="443" width="7" height="1" fill="#000"/><rect x="105" y="488" width="6" height="1" fill="#000"/><rect x="717" y="488" width="7" height="1" fill="#000"/><rect x="105" y="533" width="6" height="1" fill="#000"/><rect x="717" y="533" width="7" height="1" fill="#000"/><rect x="104" y="488" width="10" height="1" fill="#000"/><rect x="118" y="488" width="1" height="1" fill="#000"/><rect x="123" y="488" width="10" height="1" fill="#000"/><rect x="137" y="488" width="1" height="1" fill="#000"/><rect x="142" y="488" width="10" height="1" fill="#000"/><rect x="156" y="488" width="1" height="1" fill="#000"/><rect x="161" y="488" width="10" height="1" fill="#000"/><rect x="175" y="488" width="1" height="1" fill="#000"/><rect x="180" y="488" width="10" height="1" fill="#000"/><rect x="194" y="488" width="1" height="1" fill="#000"/><rect x="199" y="488" width="10" height="1" fill="#000"/><rect x="213" y="488" width="1" height="1" fill="#000"/><rect x="218" y="488" width="10" height="1" fill="#000"/><rect x="232" y="488" width="1" height="1" fill="#000"/><rect x="237" y="488" width="10" height="1" fill="#000"/><rect x="251" y="488" width="1" height="1" fill="#000"/><rect x="256" y="488" width="10" height="1" fill="#000"/><rect x="270" y="488" width="1" height="1" fill="#000"/><rect x="275" y="488" width="10" height="1" fill="#000"/><rect x="289" y="488" width="1" height="1" fill="#000"/><rect x="294" y="488" width="10" height="1" fill="#000"/><rect x="308" y="488" width="1" height="1" fill="#000"/><rect x="313" y="488" width="10" height="1" fill="#000"/><rect x="327" y="488" width="1" height="1" fill="#000"/><rect x="332" y="488" width="10" height="1" fill="#000"/><rect x="346" y="488" width="1" height="1" fill="#000"/><rect x="351" y="488" width="10" height="1" fill="#000"/><rect x="365" y="488" width="1" height="1" fill="#000"/><rect x="370" y="488" width="10" height="1" fill="#000"/><rect x="384" y="488" width="1" height="1" fill="#000"/><rect x="389" y="488" width="10" height="1" fill="#000"/><rect x="403" y="488" width="1" height="1" fill="#000"/><rect x="408" y="488" width="10" height="1" fill="#000"/><rect x="422" y="488" width="1" height="1" fill="#000"/><rect x="427" y="488" width="10" height="1" fill="#000"/><rect x="441" y="488" width="1" height="1" fill="#000"/><rect x="446" y="488" width="10" height="1" fill="#000"/><rect x="460" y="488" width="1" height="1" fill="#000"/><rect x="465" y="488" width="10" height="1" fill="#000"/><rect x="479" y="488" width="1" height="1" fill="#000"/><rect x="484" y="488" width="10" height="1" fill="#000"/><rect x="498" y="488" width="1" height="1" fill="#000"/><rect x="503" y="488" width="10" height="1" fill="#000"/><rect x="517" y="488" width="1" height="1" fill="#000"/><rect x="522" y="488" width="10" height="1" fill="#000"/><rect x="536" y="488" width="1" height="1" fill="#000"/><rect x="541" y="488" width="10" height="1" fill="#000"/><rect x="555" y="488" width="1" height="1" fill="#000"/><rect x="560" y="488" width="10" height="1" fill="#000"/><rect x="574" y="488" width="1" height="1" fill="#000"/><rect x="579" y="488" width="10" height="1" fill="#000"/><rect x="593" y="488" width="1" height="1" fill="#000"/><rect x="598" y="488" width="10" height="1" fill="#000"/><rect x="612" y="488" width="1" height="1" fill="#000"/><rect x="617" y="488" width="10" height="1" fill="#000"/><rect x="631" y="488" width="1" height="1" fill="#000"/><rect x="636" y="488" width="10" height="1" fill="#000"/><rect x="650" y="488" width="1" height="1" fill="#000"/><rect x="655" y="488" width="10" height="1" fill="#000"/><rect x="669" y="488" width="1" height="1" fill="#000"/><rect x="674" y="488" width="10" height="1" fill="#000"/><rect x="688" y="488" width="1" height="1" fill="#000"/><rect x="693" y="488" width="10" height="1" fill="#000"/><rect x="707" y="488" width="1" height="1" fill="#000"/><rect x="712" y="488" width="10" height="1" fill="#000"/></g><defs><filter id="cr" x="0" y="0" width="800" height="599" filterUnits="userSpaceOnUse"><feComponentTransfer><feFuncA type="discrete" tableValues="0 1"/></feComponentTransfer></filter><filter id="cr2" x="0" y="0" width="800" height="599" filterUnits="userSpaceOnUse"><feComponentTransfer><feFuncA type="discrete" tableValues="0 0 1 1 1"/></feComponentTransfer></filter></defs><g filter="url(#cr)" font-family="'Liberation Sans', Arial, Helvetica, sans-serif" font-size="13" fill="#000"><text transform="translate(100,184) scale(1,1.2)" text-anchor="end" textLength="7" lengthAdjust="spacing" font-size="12">0</text><text transform="translate(100,117) scale(1,1.2)" text-anchor="end" textLength="18" lengthAdjust="spacing" font-size="12">0.5</text><text transform="translate(100,50) scale(1,1.2)" text-anchor="end" textLength="7" lengthAdjust="spacing" font-size="12">1</text><text transform="translate(100,361) scale(1,1.2)" text-anchor="end" textLength="7" lengthAdjust="spacing" font-size="12">0</text><text transform="translate(100,327) scale(1,1.2)" text-anchor="end" textLength="18" lengthAdjust="spacing" font-size="12">0.1</text><text transform="translate(100,294) scale(1,1.2)" text-anchor="end" textLength="18" lengthAdjust="spacing" font-size="12">0.2</text><text transform="translate(100,260) scale(1,1.2)" text-anchor="end" textLength="18" lengthAdjust="spacing" font-size="12">0.3</text><text transform="translate(100,227) scale(1,1.2)" text-anchor="end" textLength="18" lengthAdjust="spacing" font-size="12">0.4</text><text transform="translate(100,404) scale(1,1.2)" text-anchor="end" textLength="7" lengthAdjust="spacing" font-size="12">0</text><text transform="translate(100,448) scale(1,1.2)" text-anchor="end" textLength="22" lengthAdjust="spacing" font-size="12">-0.5</text><text transform="translate(100,493) scale(1,1.2)" text-anchor="end" textLength="11" lengthAdjust="spacing" font-size="12">-1</text><text transform="translate(100,538) scale(1,1.2)" text-anchor="end" textLength="22" lengthAdjust="spacing" font-size="12">-1.5</text><text transform="translate(118,196) scale(1,1.2)" text-anchor="end" textLength="32" lengthAdjust="spacing" font-size="12">-5000</text><text transform="translate(180,196) scale(1,1.2)" text-anchor="end" textLength="32" lengthAdjust="spacing" font-size="12">-4000</text><text transform="translate(242,196) scale(1,1.2)" text-anchor="end" textLength="32" lengthAdjust="spacing" font-size="12">-3000</text><text transform="translate(304,196) scale(1,1.2)" text-anchor="end" textLength="32" lengthAdjust="spacing" font-size="12">-2000</text><text transform="translate(366,196) scale(1,1.2)" text-anchor="end" textLength="32" lengthAdjust="spacing" font-size="12">-1000</text><text transform="translate(418,196) scale(1,1.2)" text-anchor="end" textLength="7" lengthAdjust="spacing" font-size="12">0</text><text transform="translate(490,196) scale(1,1.2)" text-anchor="end" textLength="28" lengthAdjust="spacing" font-size="12">1000</text><text transform="translate(552,196) scale(1,1.2)" text-anchor="end" textLength="28" lengthAdjust="spacing" font-size="12">2000</text><text transform="translate(614,196) scale(1,1.2)" text-anchor="end" textLength="28" lengthAdjust="spacing" font-size="12">3000</text><text transform="translate(676,196) scale(1,1.2)" text-anchor="end" textLength="28" lengthAdjust="spacing" font-size="12">4000</text><text transform="translate(738,196) scale(1,1.2)" text-anchor="end" textLength="28" lengthAdjust="spacing" font-size="12">5000</text><text transform="translate(118,373) scale(1,1.2)" text-anchor="end" textLength="32" lengthAdjust="spacing" font-size="12">-5000</text><text transform="translate(180,373) scale(1,1.2)" text-anchor="end" textLength="32" lengthAdjust="spacing" font-size="12">-4000</text><text transform="translate(242,373) scale(1,1.2)" text-anchor="end" textLength="32" lengthAdjust="spacing" font-size="12">-3000</text><text transform="translate(304,373) scale(1,1.2)" text-anchor="end" textLength="32" lengthAdjust="spacing" font-size="12">-2000</text><text transform="translate(366,373) scale(1,1.2)" text-anchor="end" textLength="32" lengthAdjust="spacing" font-size="12">-1000</text><text transform="translate(418,373) scale(1,1.2)" text-anchor="end" textLength="7" lengthAdjust="spacing" font-size="12">0</text><text transform="translate(490,373) scale(1,1.2)" text-anchor="end" textLength="28" lengthAdjust="spacing" font-size="12">1000</text><text transform="translate(552,373) scale(1,1.2)" text-anchor="end" textLength="28" lengthAdjust="spacing" font-size="12">2000</text><text transform="translate(614,373) scale(1,1.2)" text-anchor="end" textLength="28" lengthAdjust="spacing" font-size="12">3000</text><text transform="translate(676,373) scale(1,1.2)" text-anchor="end" textLength="28" lengthAdjust="spacing" font-size="12">4000</text><text transform="translate(738,373) scale(1,1.2)" text-anchor="end" textLength="28" lengthAdjust="spacing" font-size="12">5000</text><text transform="translate(118,550) scale(1,1.2)" text-anchor="end" textLength="32" lengthAdjust="spacing" font-size="12">-5000</text><text transform="translate(180,550) scale(1,1.2)" text-anchor="end" textLength="32" lengthAdjust="spacing" font-size="12">-4000</text><text transform="translate(242,550) scale(1,1.2)" text-anchor="end" textLength="32" lengthAdjust="spacing" font-size="12">-3000</text><text transform="translate(304,550) scale(1,1.2)" text-anchor="end" textLength="32" lengthAdjust="spacing" font-size="12">-2000</text><text transform="translate(366,550) scale(1,1.2)" text-anchor="end" textLength="32" lengthAdjust="spacing" font-size="12">-1000</text><text transform="translate(418,550) scale(1,1.2)" text-anchor="end" textLength="7" lengthAdjust="spacing" font-size="12">0</text><text transform="translate(490,550) scale(1,1.2)" text-anchor="end" textLength="28" lengthAdjust="spacing" font-size="12">1000</text><text transform="translate(552,550) scale(1,1.2)" text-anchor="end" textLength="28" lengthAdjust="spacing" font-size="12">2000</text><text transform="translate(614,550) scale(1,1.2)" text-anchor="end" textLength="28" lengthAdjust="spacing" font-size="12">3000</text><text transform="translate(676,550) scale(1,1.2)" text-anchor="end" textLength="28" lengthAdjust="spacing" font-size="12">4000</text><text transform="translate(738,550) scale(1,1.2)" text-anchor="end" textLength="28" lengthAdjust="spacing" font-size="12">5000</text><text transform="translate(412.5,567) scale(1,1.05)" text-anchor="middle" textLength="101" lengthAdjust="spacingAndGlyphs">Genomic Position</text><g filter="url(#cr2)"><text transform="translate(72,112) rotate(-90) scale(1,1.05)" text-anchor="middle" textLength="112" lengthAdjust="spacingAndGlyphs">Conservation Score</text><text transform="translate(72,289.5) rotate(-90) scale(1,1.05)" text-anchor="middle" textLength="42" lengthAdjust="spacingAndGlyphs">Density</text><text transform="translate(68,467) rotate(-90) scale(1,1.05)" text-anchor="middle" textLength="39" lengthAdjust="spacingAndGlyphs">Energy</text></g></g></svg></body></html>
